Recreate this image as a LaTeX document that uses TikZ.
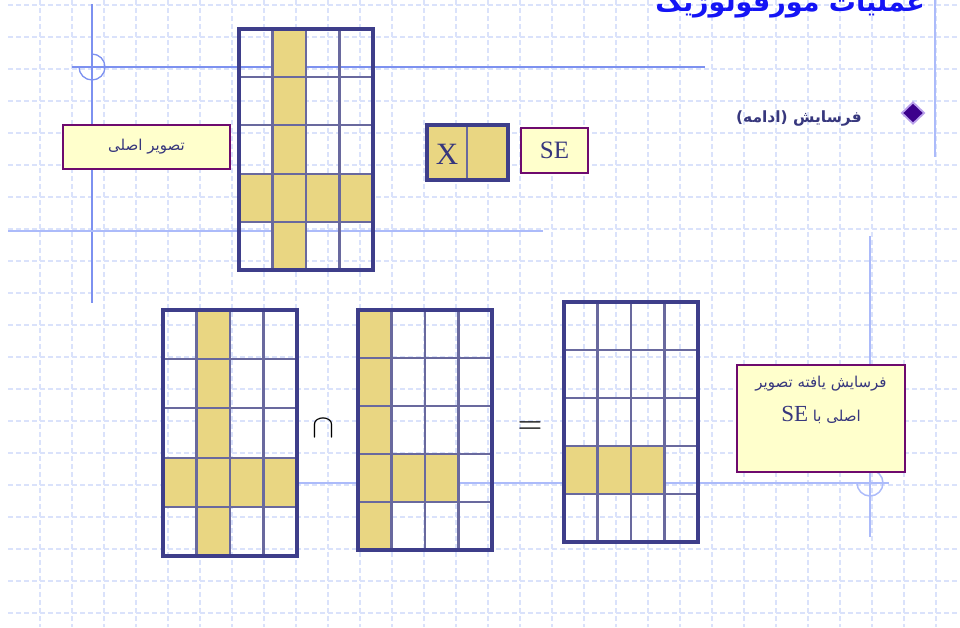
\documentclass[tikz,border=0pt]{standalone}
\usepackage{fontspec}
\setmainfont{Liberation Serif}
\newfontfamily\fa[Script=Arabic]{DejaVu Sans}
\TeXXeTstate=1
\usetikzlibrary{shapes.geometric}
\definecolor{gridc}{RGB}{218,226,251}
\definecolor{decoA}{RGB}{125,145,240}
\definecolor{decoB}{RGB}{172,187,250}
\definecolor{cellc}{RGB}{233,214,130}
\definecolor{mtxc}{RGB}{62,62,138}
\definecolor{mtxin}{RGB}{105,105,158}
\definecolor{lblfill}{RGB}{255,255,204}
\definecolor{lbldraw}{RGB}{110,10,110}
\definecolor{txtc}{RGB}{55,55,125}
\definecolor{titlec}{RGB}{20,20,245}
\definecolor{bulc}{RGB}{60,0,140}
\definecolor{bulb}{RGB}{185,160,235}
\newcommand{\Mtx}[5]{%
  \foreach \c/\r in {#5}
    \fill[cellc] ({#1+(\c-1)*(#3-#1)/4},{#2+(\r-1)*(#4-#2)/5}) rectangle ({#1+\c*(#3-#1)/4},{#2+\r*(#4-#2)/5});
  \foreach \i in {1,2,3}
    \draw[mtxinner] ({#1+\i*(#3-#1)/4},#2) -- ({#1+\i*(#3-#1)/4},#4);
  \foreach \j in {1,...,4}
    \draw[mtxinner] (#1,{#2+\j*(#4-#2)/5}) -- (#3,{#2+\j*(#4-#2)/5});
  \draw[mtxouter] (#1,#2) rectangle (#3,#4);
}
\tikzset{
  gridline/.style={draw=gridc, line width=1.1pt, dash pattern=on 5pt off 3pt},
  decoline/.style={draw=decoA, line width=1.3pt},
  decolight/.style={draw=decoB, line width=1.5pt},
  mtxinner/.style={draw=mtxin, line width=2.1pt},
  mtxouter/.style={draw=mtxc, line width=3.4pt},
  lbl/.style={draw=lbldraw, fill=lblfill, line width=2pt, inner sep=0pt, text=txtc},
  fatxt/.style={font={\fa\fontsize{15}{24}\selectfont}, text=txtc},
}
\begin{document}
\begin{tikzpicture}[x=1pt,y=-1pt]
\useasboundingbox (0,0) rectangle (960,627);
\clip (0,0) rectangle (960,627);
% background grid
\foreach \y in {5,37,...,613} \draw[gridline] (8,\y) -- (960,\y);
\foreach \x in {40,72,...,936} \draw[gridline] (\x,0) -- (\x,627);
% decorative lines
\draw[decoline] (92,4) -- (92,303);
\draw[decoline] (72,67) -- (705,67);
\draw[decoline] (92,54) arc[start angle=90, end angle=-180, radius=13pt];
\draw[decolight] (8,231) -- (543,231);
\draw[decolight] (935,0) -- (935,157);
\draw[decolight] (870,236) -- (870,537);
\draw[decolight] (230,483) -- (889,483);
\draw[decolight] (870,470) arc[start angle=90, end angle=-180, radius=13pt];
% title
\node[anchor=base east, text=titlec, inner sep=0pt, font={\fa\bfseries\fontsize{27}{32}\selectfont}] (title) at (925,11) {\beginR عملیات مورفولوژیک\endR};
% bullet
\node[diamond, fill=bulc, draw=bulb, line width=1.8pt, minimum width=23pt, minimum height=22pt, inner sep=0pt] (bul) at (913,113) {};
\node[anchor=base east, inner sep=0pt, text=txtc, font={\fa\bfseries\fontsize{15.5}{18}\selectfont}] (btxt) at (862,122) {\beginR فرسایش (ادامه)\endR};
% matrices
\Mtx{239}{29}{373}{270}{2/1,2/2,2/3,1/4,2/4,3/4,4/4,2/5}
\Mtx{163}{310}{297}{556}{2/1,2/2,2/3,1/4,2/4,3/4,4/4,2/5}
\Mtx{358}{310}{492}{550}{1/1,1/2,1/3,1/4,2/4,3/4,1/5}
\Mtx{564}{302}{698}{542}{1/4,2/4,3/4}
% structuring element
\fill[cellc] (427,125) rectangle (508,180);
\draw[mtxinner] (467,125) -- (467,180);
\draw[mtxouter] (427,125) rectangle (508,180);
\node[text=txtc, inner sep=0pt, font={\fontsize{31}{31}\selectfont}] (xl) at (447,154) {X};
% labels
\node[lbl, minimum width=167pt, minimum height=44pt, fatxt] (orig) at (146.5,147) {\beginR تصویر اصلی\endR};
\node[lbl, minimum width=67pt, minimum height=45pt, font={\fontsize{25}{25}\selectfont}] (se) at (554.5,150.5) {SE};
\node[lbl, minimum width=168pt, minimum height=107pt] (res) at (821,418.5) {};
\node[fatxt, anchor=north, align=center, inner sep=0pt] (restxt) at ([yshift=-12pt]res.north) {\beginR فرسایش یافته تصویر\endR\\[10pt]\beginR اصلی با \beginL{\normalfont\fontsize{23}{23}\selectfont SE}\endL\endR};
% operators
\node[inner sep=0pt] (cap) at (323,428) {\scalebox{3.3}{$\cap$}};
\node[inner sep=0pt] (eq) at (530,428) {\scalebox{3.2}{$=$}};
\end{tikzpicture}
\end{document}
